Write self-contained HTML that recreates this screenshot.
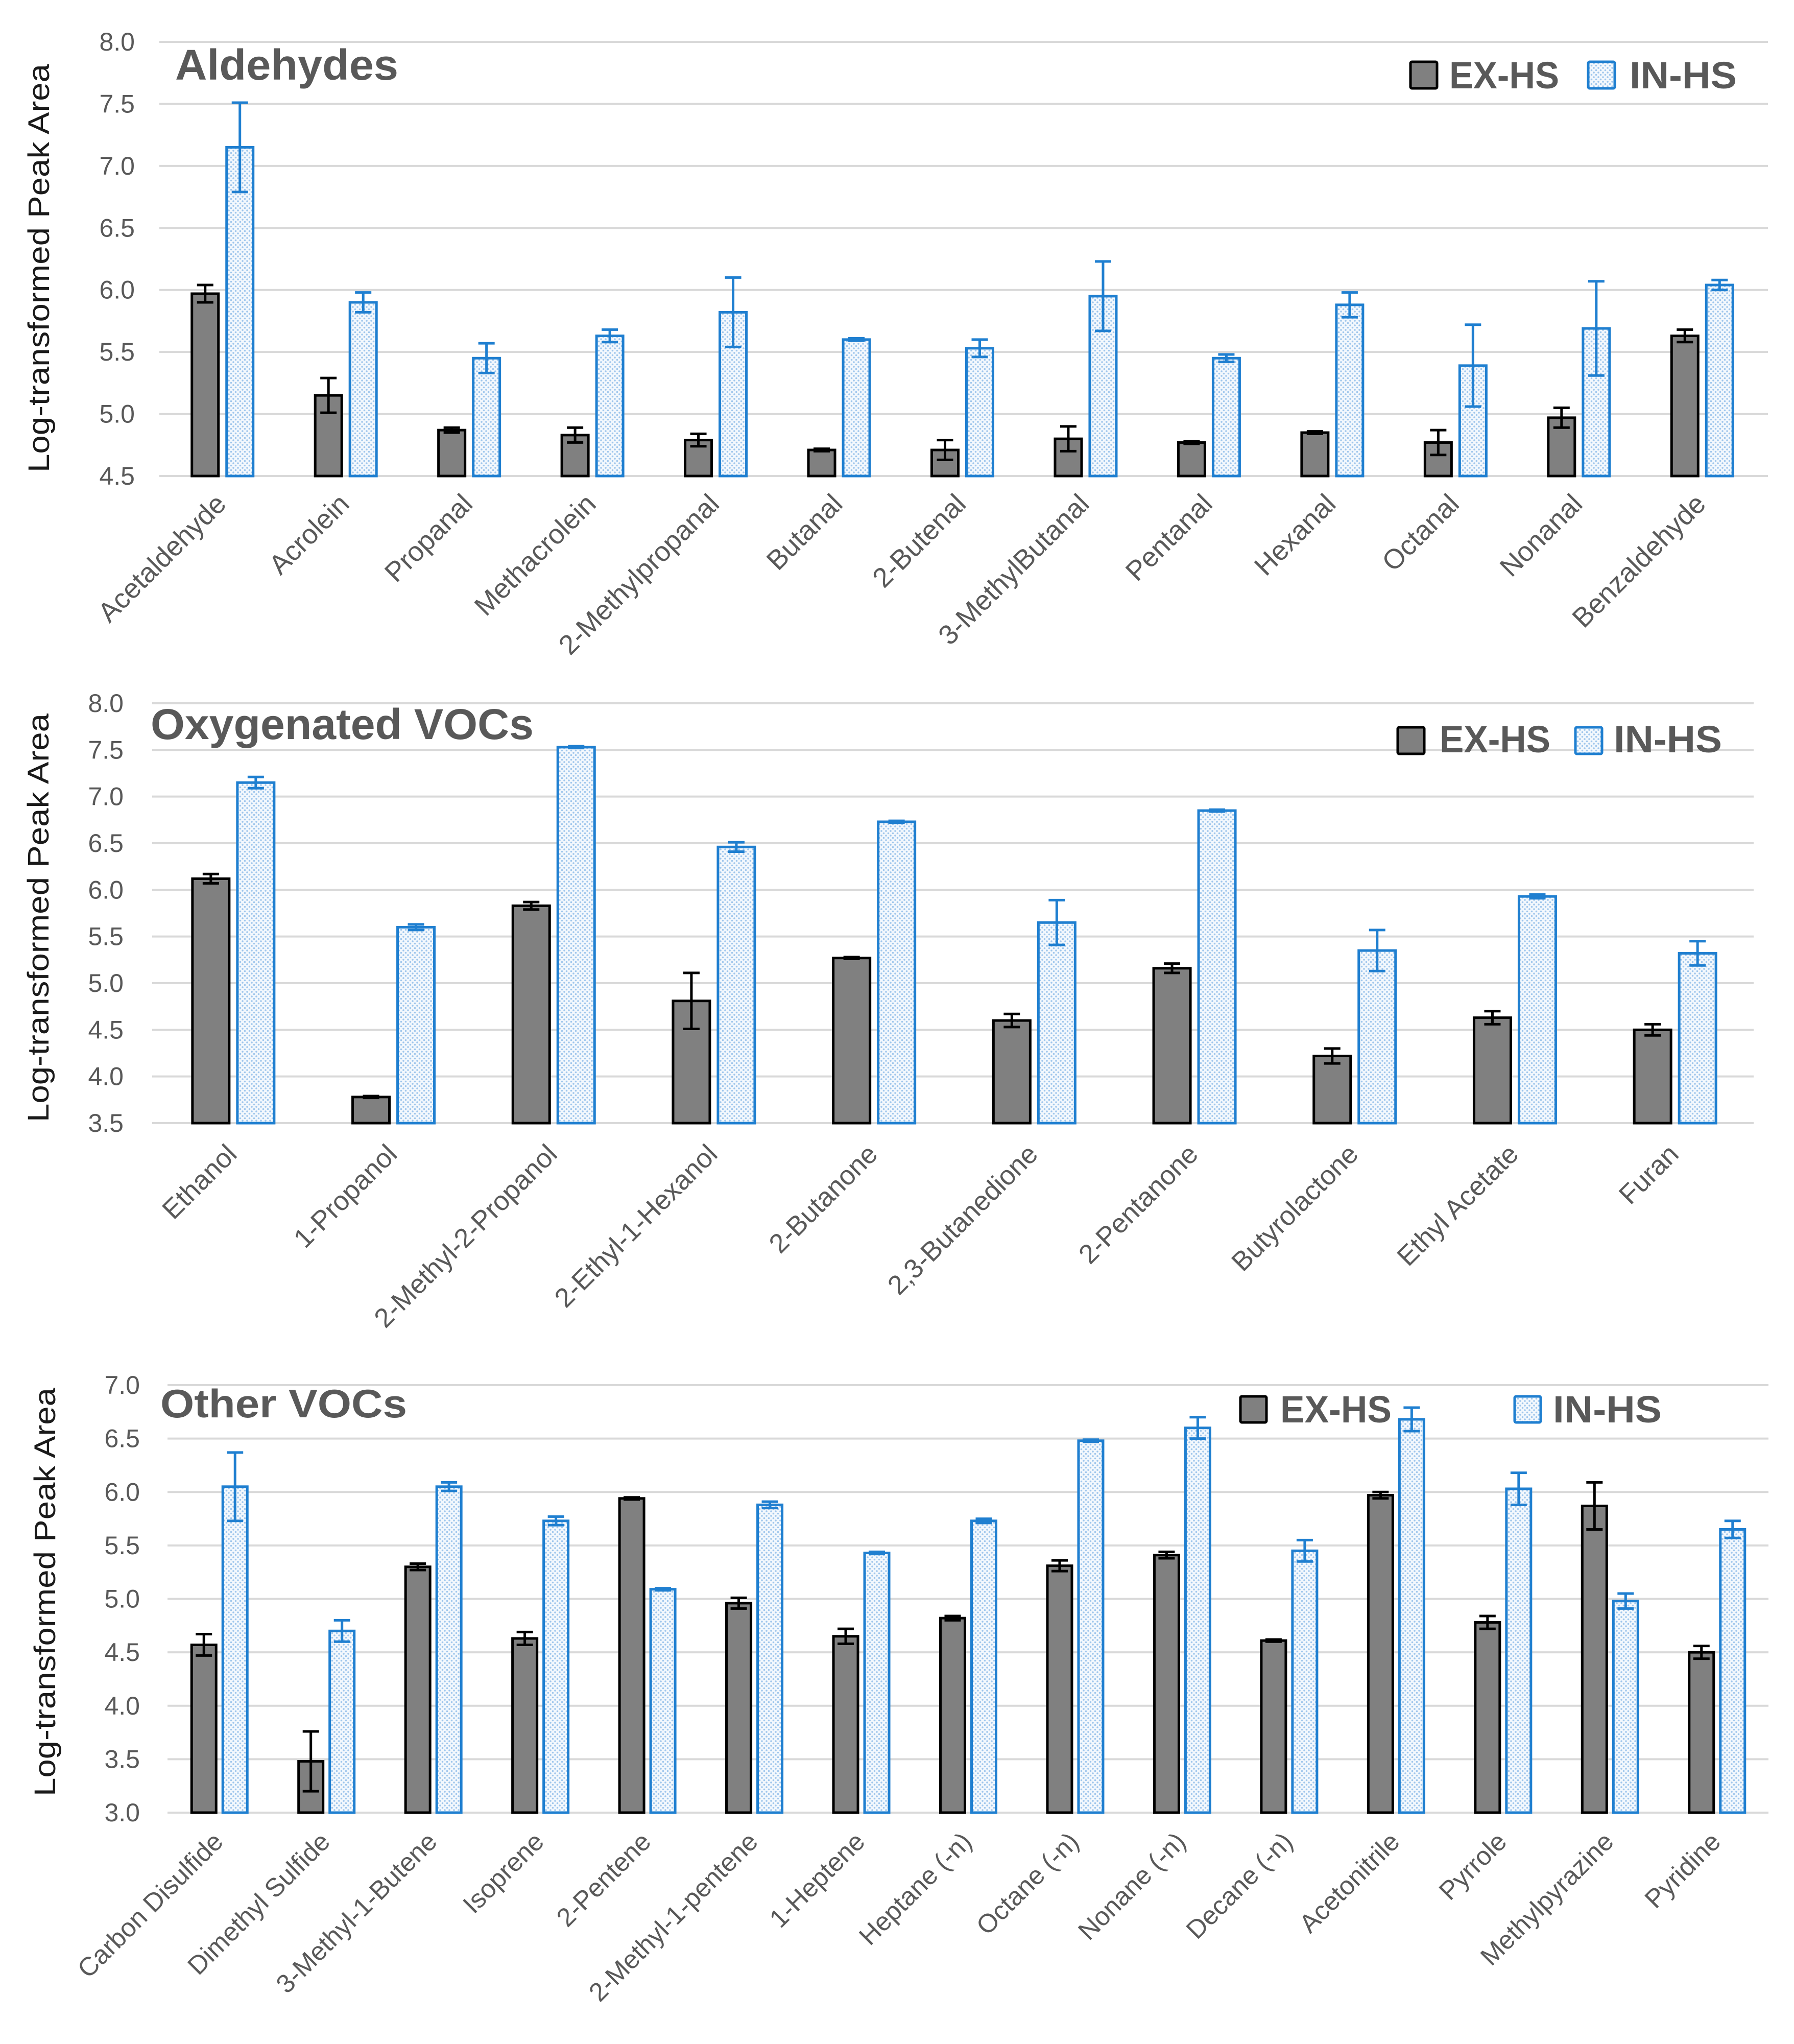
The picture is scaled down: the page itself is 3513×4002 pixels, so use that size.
<!DOCTYPE html>
<html><head><meta charset="utf-8"><style>
html,body{margin:0;padding:0;background:#fff;}
svg{display:block;font-family:"Liberation Sans",Arial,sans-serif;}
</style></head><body>
<svg id="root" xmlns="http://www.w3.org/2000/svg" width="3513" height="4002" viewBox="0 0 3513 4002">
<defs>
<pattern id="dots" width="9" height="9" patternUnits="userSpaceOnUse">
<rect width="9" height="9" fill="#f3f8fd"/>
<circle cx="2.5" cy="2.5" r="1.8" fill="#9fc6ec"/>
<circle cx="7" cy="7" r="1.8" fill="#9fc6ec"/>
</pattern>
</defs>
</svg>
<script>
// ---------- Chart 1: Aldehydes ----------
const aldCats = ["Acetaldehyde","Acrolein","Propanal","Methacrolein","2-Methylpropanal","Butanal","2-Butenal","3-MethylButanal","Pentanal","Hexanal","Octanal","Nonanal","Benzaldehyde"];
const aldEx = [5.97,5.15,4.87,4.83,4.79,4.71,4.71,4.80,4.77,4.85,4.77,4.97,5.63];
const aldExErr = [0.07,0.14,0.02,0.06,0.05,0.01,0.08,0.10,0.01,0.01,0.10,0.08,0.05];
const aldIn = [7.15,5.90,5.45,5.63,5.82,5.60,5.53,5.95,5.45,5.88,5.39,5.69,6.04];
const aldInErr = [0.36,0.08,0.12,0.05,0.28,0.01,0.07,0.28,0.03,0.10,0.33,0.38,0.04];
const aldTicks = ["4.5","5.0","5.5","6.0","6.5","7.0","7.5","8.0"];

// ---------- Chart 2: Oxygenated VOCs ----------
const oxyCats = ["Ethanol","1-Propanol","2-Methyl-2-Propanol","2-Ethyl-1-Hexanol","2-Butanone","2,3-Butanedione","2-Pentanone","Butyrolactone","Ethyl Acetate","Furan"];
const oxyEx = [6.12,3.78,5.83,4.81,5.27,4.60,5.16,4.22,4.63,4.50];
const oxyExErr = [0.05,0.01,0.04,0.30,0.01,0.07,0.05,0.08,0.07,0.06];
const oxyIn = [7.15,5.60,7.53,6.46,6.73,5.65,6.85,5.35,5.93,5.32];
const oxyInErr = [0.06,0.03,0.01,0.05,0.01,0.24,0.01,0.22,0.02,0.13];
const oxyTicks = ["3.5","4.0","4.5","5.0","5.5","6.0","6.5","7.0","7.5","8.0"];

// ---------- Chart 3: Other VOCs ----------
const othCats = ["Carbon Disulfide","Dimethyl Sulfide","3-Methyl-1-Butene","Isoprene","2-Pentene","2-Methyl-1-pentene","1-Heptene","Heptane (-n)","Octane (-n)","Nonane (-n)","Decane (-n)","Acetonitrile","Pyrrole","Methylpyrazine","Pyridine"];
const othEx = [4.57,3.48,5.30,4.63,5.94,4.96,4.65,4.82,5.31,5.41,4.61,5.97,4.78,5.87,4.50];
const othExErr = [0.10,0.28,0.03,0.06,0.01,0.05,0.07,0.02,0.05,0.03,0.01,0.03,0.06,0.22,0.06];
const othIn = [6.05,4.70,6.05,5.73,5.09,5.88,5.43,5.73,6.48,6.60,5.45,6.68,6.03,4.98,5.65];
const othInErr = [0.32,0.10,0.04,0.04,0.01,0.03,0.01,0.02,0.01,0.10,0.10,0.11,0.15,0.07,0.08];
const othTicks = ["3.0","3.5","4.0","4.5","5.0","5.5","6.0","6.5","7.0"];

const NS = "http://www.w3.org/2000/svg";
const root = document.getElementById("root");
function mk(tag, attrs, parent, text){
  const e = document.createElementNS(NS, tag);
  for (const k in attrs) e.setAttribute(k, attrs[k]);
  if (text !== undefined) e.textContent = text;
  (parent || root).appendChild(e);
  return e;
}

function drawChart(c, cats, ex, exErr, inn, inErr, ticks){
  const g = mk("g", {});
  
  
  const min = parseFloat(ticks[0]), max = parseFloat(ticks[ticks.length-1]);
  const y = v => c.yBot - (v - min) / (max - min) * (c.yBot - c.yTop);
  const step = (c.right - c.left) / cats.length;
  const xc = i => c.left + step * (i + 0.5);
  ticks.forEach(t => {
    const v = parseFloat(t);
    const gl = mk("line", {x1:c.gridLeft, x2:c.gridRight, y1:y(v), y2:y(v), stroke:"#d9d9d9", "stroke-width":4}, g);
    
    
    const tl = mk("text", {x:c.tickX, y:y(v)+17, "text-anchor":"end", "font-size":c.tickSize, fill:"#595959"}, g, t);
    
    
  });
  const yt = mk("text", {x:0, y:0, transform:`translate(${c.yTitleX},${c.yTitleY}) rotate(-90)`, "text-anchor":"middle", "font-size":58, fill:"#1a1a1a", textLength:800, lengthAdjust:"spacingAndGlyphs"}, g, "Log-transformed Peak Area");
  
  
  const tt = mk("text", {x:c.titleX, y:c.titleY, "font-size":c.titleSize, "font-weight":"bold", fill:"#595959", textLength:c.titleLen, lengthAdjust:"spacingAndGlyphs"}, g, c.title);
  
  
  cats.forEach((cat, i) => {
    const cx = xc(i);
    const exX = cx - c.gap/2 - c.barW, inX = cx + c.gap/2;
    const b1 = mk("rect", {x:exX, y:y(ex[i]), width:c.barW, height:c.yBot - y(ex[i]), fill:"#808080", stroke:"#000", "stroke-width":5}, g);
    
    
    const b2 = mk("rect", {x:inX, y:y(inn[i]), width:c.barW, height:c.yBot - y(inn[i]), fill:"url(#dots)", stroke:"#1f7fd0", "stroke-width":5}, g);
    
    
    [[exX + c.barW/2, ex[i], exErr[i], "#000"], [inX + c.barW/2, inn[i], inErr[i], "#1f7fd0"]].forEach(([bx, v, e, col]) => {
      const eb = mk("path", {d:`M${bx},${y(v+e)}V${y(v-e)}M${bx-16},${y(v+e)}H${bx+16}M${bx-16},${y(v-e)}H${bx+16}`, stroke:col, "stroke-width":5, fill:"none"}, g);
      
      
    });
    const lx = cx + 10, ly = c.yBot + c.labelDy;
    const lb = mk("text", {x:lx, y:ly, transform:`rotate(-45 ${lx} ${ly})`, "text-anchor":"end", "font-size":c.labelSize, fill:"#595959"}, g, cat);
    
    
  });
  const L = c.leg;
  const s1 = mk("rect", {x:L.exSqX, y:L.sqY, width:L.sq, height:L.sq, fill:"#808080", stroke:"#000", "stroke-width":5, rx:3}, g);
  
  
  const t1 = mk("text", {x:L.exTX, y:L.base, "font-size":74, "font-weight":"bold", fill:"#595959", textLength:L.tLen, lengthAdjust:"spacingAndGlyphs"}, g, "EX-HS");
  
  
  const s2 = mk("rect", {x:L.inSqX, y:L.sqY, width:L.sq, height:L.sq, fill:"url(#dots)", stroke:"#1f7fd0", "stroke-width":5, rx:3}, g);
  
  
  const t2 = mk("text", {x:L.inTX, y:L.base, "font-size":74, "font-weight":"bold", fill:"#595959", textLength:L.tLen - 5, lengthAdjust:"spacingAndGlyphs"}, g, "IN-HS");
  
  
}

drawChart({name:"aldehydes-chart", left:315, right:3454, yTop:82, yBot:932, gridLeft:312, gridRight:3462,
  barW:52, gap:16, tickX:264, tickSize:50, titleX:343, titleY:156, titleSize:84, titleLen:437, title:"Aldehydes",
  yTitleX:96, yTitleY:525, labelDy:58, labelSize:54,
  leg:{exSqX:2762, inSqX:3110, sqY:121, sq:52, exTX:2838, inTX:3191, base:173, tLen:215}},
  aldCats, aldEx, aldExErr, aldIn, aldInErr, aldTicks);

drawChart({name:"oxygenated-vocs-chart", left:300, right:3437, yTop:1377, yBot:2199, gridLeft:298, gridRight:3434,
  barW:72, gap:16, tickX:242, tickSize:50, titleX:295, titleY:1447, titleSize:84, titleLen:750, title:"Oxygenated VOCs",
  yTitleX:95, yTitleY:1797, labelDy:64, labelSize:53,
  leg:{exSqX:2737, inSqX:3085, sqY:1424, sq:52, exTX:2819, inTX:3160, base:1473, tLen:217}},
  oxyCats, oxyEx, oxyExErr, oxyIn, oxyInErr, oxyTicks);

drawChart({name:"other-vocs-chart", left:325, right:3467, yTop:2712, yBot:3549, gridLeft:328, gridRight:3463,
  barW:48, gap:13, tickX:274, tickSize:50, titleX:314, titleY:2775, titleSize:78, titleLen:483, title:"Other VOCs",
  yTitleX:108, yTitleY:3117, labelDy:60, labelSize:51,
  leg:{exSqX:2429, inSqX:2966, sqY:2734, sq:51, exTX:2507, inTX:3041, base:2785, tLen:218}},
  othCats, othEx, othExErr, othIn, othInErr, othTicks);
</script>
</body></html>
